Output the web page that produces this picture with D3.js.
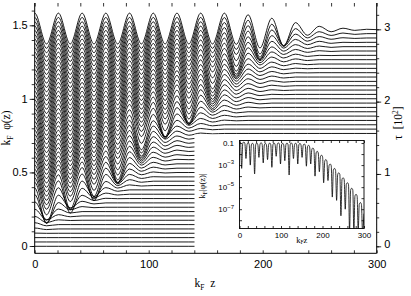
<!DOCTYPE html>
<html>
<head>
<meta charset="utf-8">
<script src="https://cdn.jsdelivr.net/npm/d3@7"></script>
<style>
  body { margin: 0; background: #fff; }
  svg { display: block; }
</style>
</head>
<body>
<svg id="chart" width="411" height="296"></svg>
<script>
// one curve per time tau (right axis, units of 1), stacked by tau
const taus = [0, 6, 12, 18, 24, 30, 36, 42, 48, 54, 60, 66, 72, 78, 84, 90, 96, 102, 108, 114,
  120, 126, 132, 138, 144, 150, 156, 162, 168, 174, 180, 186, 192, 198, 204, 210, 216, 222, 228,
  234, 240, 246, 252, 258, 264, 270, 276, 282, 288, 294, 300]

// positions of the peaks / troughs of the oscillation (kF z)
const extremaZ = [-10.4, 0, 10.4, 20.8, 31.2, 41.6, 52, 62.4, 72.8, 83.2, 93.6, 104, 114.4, 124.8,
  135.2, 145.6, 156, 166.4, 176.8, 187.2, 197.6, 208, 218.4, 228.8, 239.2, 249.6, 260, 270.4,
  280.8, 291.2, 300]
const halfPeriod = 10.4
const peakAmp = 0.11
const troughAmp = 0.10

// leading deep trough: tau at which each V tip is reached, and how wide the front is
const frontTau = [59, 75, 92, 121, 162, 180, 201, 245, 272, 293, 309]
const frontZ = [10.4, 31.2, 52, 72.8, 93.6, 114.4, 135.2, 156, 176.8, 197.6, 218.4]
const widthTau = [60, 300]
const frontWidth = [9, 17]

// size of troughs / peaks against distance ahead of the front (in front widths)
const troughDist = [-2, -1, -0.5, 0, 0.5, 1, 1.5, 2, 3, 4, 6]
const troughSize = [1.0, 1.1, 1.28, 1.4, 1.25, 0.92, 0.6, 0.36, 0.18, 0.09, 0]
const peakDist = [-2, -1, 0, 1, 2, 3, 4, 5]
const peakSize = [1.0, 0.88, 0.7, 0.48, 0.26, 0.12, 0.05, 0]

// inset: log10 kF|phi| at the maxima and at the zeros
const insetPeakZ = [0, 10.4, 20.8, 31.2, 41.6, 52, 62.4, 72.8, 83.2, 93.6, 104, 114.4, 124.8,
  135.2, 145.6, 156, 166.4, 176.8, 187.2, 197.6, 208, 218.4, 228.8, 239.2, 249.6, 260, 270.4,
  280.8, 291.2, 300]
const insetPeakLog = [-0.85, -0.9, -0.98, -1.02, -1.0, -0.97, -1.03, -1.0, -1.0, -0.98, -1.02,
  -1.0, -0.99, -1.01, -1.03, -1.08, -1.2, -1.45, -1.75, -2.1, -2.5, -2.9, -3.3, -3.7, -4.15,
  -4.6, -5.1, -5.65, -6.4, -7.4]
const insetDipLog = [-3.3, -2.4, -3.0, -3.8, -2.3, -2.8, -2.5, -3.2, -2.2, -2.9, -2.6, -3.9,
  -2.4, -2.9, -2.3, -3.1, -2.9, -4.0, -3.6, -4.6, -4.4, -5.9, -6.2, -7.6, -7.0, -9, -9, -9, -9]
const arcShoulder = -0.15

const phiTicks = [0, 0.5, 1, 1.5]
const tauTicks = [0, 1, 2, 3]
const zTicks = [0, 100, 200, 300]
const insetLabels = [[1e-1, "0.1", ""], [1e-3, "10", "\u22123"], [1e-5, "10", "\u22125"], [1e-7, "10", "\u22127"]]

const svg = d3.select("#chart")
const sans = "'Liberation Sans', Arial, sans-serif"
const serif = "'Liberation Serif', 'Times New Roman', serif"

const x = d3.scaleLinear([0, 300], [34.7, 376.7])
const yPhi = d3.scaleLinear([0, 1.5], [246, 25.3])
const yTau = d3.scaleLinear([0, 3], [246.3, 29.3])
const front = d3.scaleLinear(frontTau, frontZ)
const width = d3.scaleLinear(widthTau, frontWidth).clamp(true)
const tEnv = d3.scaleLinear(troughDist, troughSize).clamp(true)
const pEnv = d3.scaleLinear(peakDist, peakSize).clamp(true)
const yBottom = 253.3, yTop = 3

svg.append("clipPath").attr("id", "plot")
  .append("rect").attr("x", x(0)).attr("y", 0).attr("width", x(300) - x(0)).attr("height", yBottom)

const line = d3.line().x(d => x(d[0])).y(d => yPhi(d[1])).curve(d3.curveMonotoneX)

const curves = taus.map(tau => {
  const off = yPhi.invert(yTau(tau / 100))
  const f = front(tau), w = width(tau)
  return extremaZ.map(z => {
    const h = (z - f) / w
    const odd = Math.abs(Math.round(z / halfPeriod)) % 2 === 1
    return [z, off + (odd ? -troughAmp * tEnv(h) : peakAmp * pEnv(h))]
  })
})

svg.append("g").attr("clip-path", "url(#plot)")
  .selectAll("path").data(curves).join("path")
  .attr("d", line).attr("fill", "none").attr("stroke", "#000").attr("stroke-width", 0.9)

// white box behind the inset
svg.append("rect").attr("x", 194.5).attr("y", 134.5)
  .attr("width", x(300) - 194.5).attr("height", yBottom - 134.5).attr("fill", "#fff")

// frame and ticks
const frame = svg.append("g").attr("stroke", "#000").attr("stroke-width", 1)
frame.append("line").attr("x1", x(0)).attr("x2", x(0)).attr("y1", yTop).attr("y2", yBottom)
frame.append("line").attr("x1", x(300)).attr("x2", x(300)).attr("y1", yTop).attr("y2", yBottom)
frame.append("line").attr("x1", x(0)).attr("x2", x(300)).attr("y1", yBottom).attr("y2", yBottom)

function style(g, size, family) {
  g.select(".domain").remove()
  g.selectAll("line").attr("stroke", "#000").attr("stroke-width", 0.8)
  g.attr("font-family", family || sans).attr("font-size", size || 11)
  g.selectAll("text").attr("fill", "#000")
}

svg.append("g").attr("transform", `translate(0,${yBottom})`)
  .call(d3.axisBottom(x).tickValues(d3.range(0, 301, 20)).tickSize(-3).tickSizeOuter(0)
    .tickPadding(6.4).tickFormat(d => zTicks.includes(d) ? d : ""))
  .call(g => style(g))
svg.append("g").attr("transform", `translate(0,${yTop})`)
  .call(d3.axisTop(x).tickValues(d3.range(0, 301, 20)).tickSize(-3.5).tickSizeOuter(0).tickFormat(""))
  .call(g => style(g))
svg.append("g").attr("transform", `translate(${x(0)},0)`)
  .call(d3.axisLeft(yPhi).tickValues(d3.range(0, 1.65, 0.1)).tickSize(3).tickSizeOuter(0).tickFormat(""))
  .call(g => style(g))
svg.append("g").attr("transform", `translate(${x(0)},0)`)
  .call(d3.axisLeft(yPhi).tickValues(phiTicks).tickSize(5).tickSizeOuter(0).tickPadding(2)
    .tickFormat(d3.format("")))
  .call(g => style(g))
svg.append("g").attr("transform", `translate(${x(300)},0)`)
  .call(d3.axisRight(yTau).tickValues(d3.range(0, 3.3, 0.2)).tickSize(2.5).tickSizeOuter(0).tickFormat(""))
  .call(g => style(g))
svg.append("g").attr("transform", `translate(${x(300)},0)`)
  .call(d3.axisRight(yTau).tickValues(tauTicks).tickSize(4.5).tickSizeOuter(0).tickPadding(3)
    .tickFormat(d3.format("")))
  .call(g => { style(g); g.selectAll("text").attr("dy", "0.15em") })

// axis titles
const xt = svg.append("text").attr("x", 205).attr("y", 287)
  .attr("text-anchor", "middle").attr("font-family", serif).attr("font-size", 11.5)
xt.append("tspan").text("k")
xt.append("tspan").attr("font-size", 7.5).attr("dy", 2.5).text("F")
xt.append("tspan").attr("dy", -2.5).text("\u00a0 z")

const yt = svg.append("text").attr("transform", "translate(10,128) rotate(-90)")
  .attr("text-anchor", "middle").attr("font-family", serif).attr("font-size", 11.5)
yt.append("tspan").text("k")
yt.append("tspan").attr("font-size", 7.5).attr("dy", 2.5).text("F")
yt.append("tspan").attr("dy", -2.5).text("\u00a0 \u03c6(z)")

const rt = svg.append("text").attr("transform", "translate(402,123) rotate(-90)")
  .attr("text-anchor", "middle").attr("font-family", serif).attr("font-size", 11.5)
rt.append("tspan").text("\u03c4 \u00a0[10")
rt.append("tspan").attr("font-size", 7.5).attr("dy", -4).text("2")
rt.append("tspan").attr("dy", 4).text("]")

// inset
const xi = d3.scaleLinear([0, 300], [239.5, 364])
const yi = d3.scaleLog([Math.pow(10, -8.75), Math.pow(10, -0.77)], [228.5, 140.5])
const inset = svg.append("g")

inset.append("clipPath").attr("id", "insetClip")
  .append("rect").attr("x", xi(0)).attr("y", yi.range()[1])
  .attr("width", xi(300) - xi(0)).attr("height", yi.range()[0] - yi.range()[1])

const insetPts = []
insetPeakZ.forEach((z, k) => {
  const p = insetPeakLog[k]
  if (k > 0 && k < insetPeakZ.length - 1) insetPts.push([z - halfPeriod / 4, p + arcShoulder])
  insetPts.push([z, p])
  if (k < insetDipLog.length) {
    insetPts.push([z + halfPeriod / 4, p + arcShoulder])
    insetPts.push([z + halfPeriod / 2, insetDipLog[k]])
  }
})

inset.append("path").datum(insetPts)
  .attr("clip-path", "url(#insetClip)")
  .attr("d", d3.line().x(d => xi(d[0])).y(d => yi(Math.pow(10, d[1]))).curve(d3.curveMonotoneX))
  .attr("fill", "none").attr("stroke", "#000").attr("stroke-width", 0.8)

inset.append("rect").attr("x", xi(0)).attr("y", yi.range()[1])
  .attr("width", xi(300) - xi(0)).attr("height", yi.range()[0] - yi.range()[1])
  .attr("fill", "none").attr("stroke", "#000").attr("stroke-width", 0.9)

const decades = [1e-1, 1e-2, 1e-3, 1e-4, 1e-5, 1e-6, 1e-7, 1e-8]
inset.append("g").attr("transform", `translate(0,${yi.range()[0]})`)
  .call(d3.axisBottom(xi).tickValues(d3.range(0, 301, 20)).tickSize(-2.5).tickSizeOuter(0)
    .tickPadding(4).tickFormat(d => zTicks.includes(d) ? d : ""))
  .call(g => style(g, 8))
inset.append("g").attr("transform", `translate(0,${yi.range()[1]})`)
  .call(d3.axisTop(xi).tickValues(d3.range(0, 301, 20)).tickSize(-2.5).tickSizeOuter(0).tickFormat(""))
  .call(g => style(g, 8))
inset.append("g").attr("transform", `translate(${xi(0)},0)`)
  .call(d3.axisLeft(yi).tickValues(decades).tickSize(-2.5).tickSizeOuter(0).tickFormat(""))
  .call(g => style(g, 8))
inset.append("g").attr("transform", `translate(${xi(300)},0)`)
  .call(d3.axisRight(yi).tickValues(decades).tickSize(-2.5).tickSizeOuter(0).tickFormat(""))
  .call(g => style(g, 8))

inset.append("g").selectAll("text").data(insetLabels).join("text")
  .attr("x", 234).attr("y", d => yi(d[0])).attr("dy", "0.35em")
  .attr("text-anchor", "end").attr("font-family", sans).attr("font-size", 8)
  .each(function (d) {
    const t = d3.select(this)
    t.append("tspan").text(d[1])
    if (d[2]) t.append("tspan").attr("font-size", 6).attr("dy", -3.5).text(d[2])
  })

const ixt = inset.append("text").attr("x", 301.7).attr("y", 242.5)
  .attr("text-anchor", "middle").attr("font-family", serif).attr("font-size", 8.5)
ixt.append("tspan").text("k")
ixt.append("tspan").attr("font-size", 5.5).attr("dy", 1.8).text("F")
ixt.append("tspan").attr("dy", -1.8).text("z")

const iyt = inset.append("text").attr("transform", "translate(205,186) rotate(-90)")
  .attr("text-anchor", "middle").attr("font-family", serif).attr("font-size", 8.5)
iyt.append("tspan").text("k")
iyt.append("tspan").attr("font-size", 5.5).attr("dy", 1.8).text("F")
iyt.append("tspan").attr("dy", -1.8).text("|\u03c6(z)|")
</script>
</body>
</html>
